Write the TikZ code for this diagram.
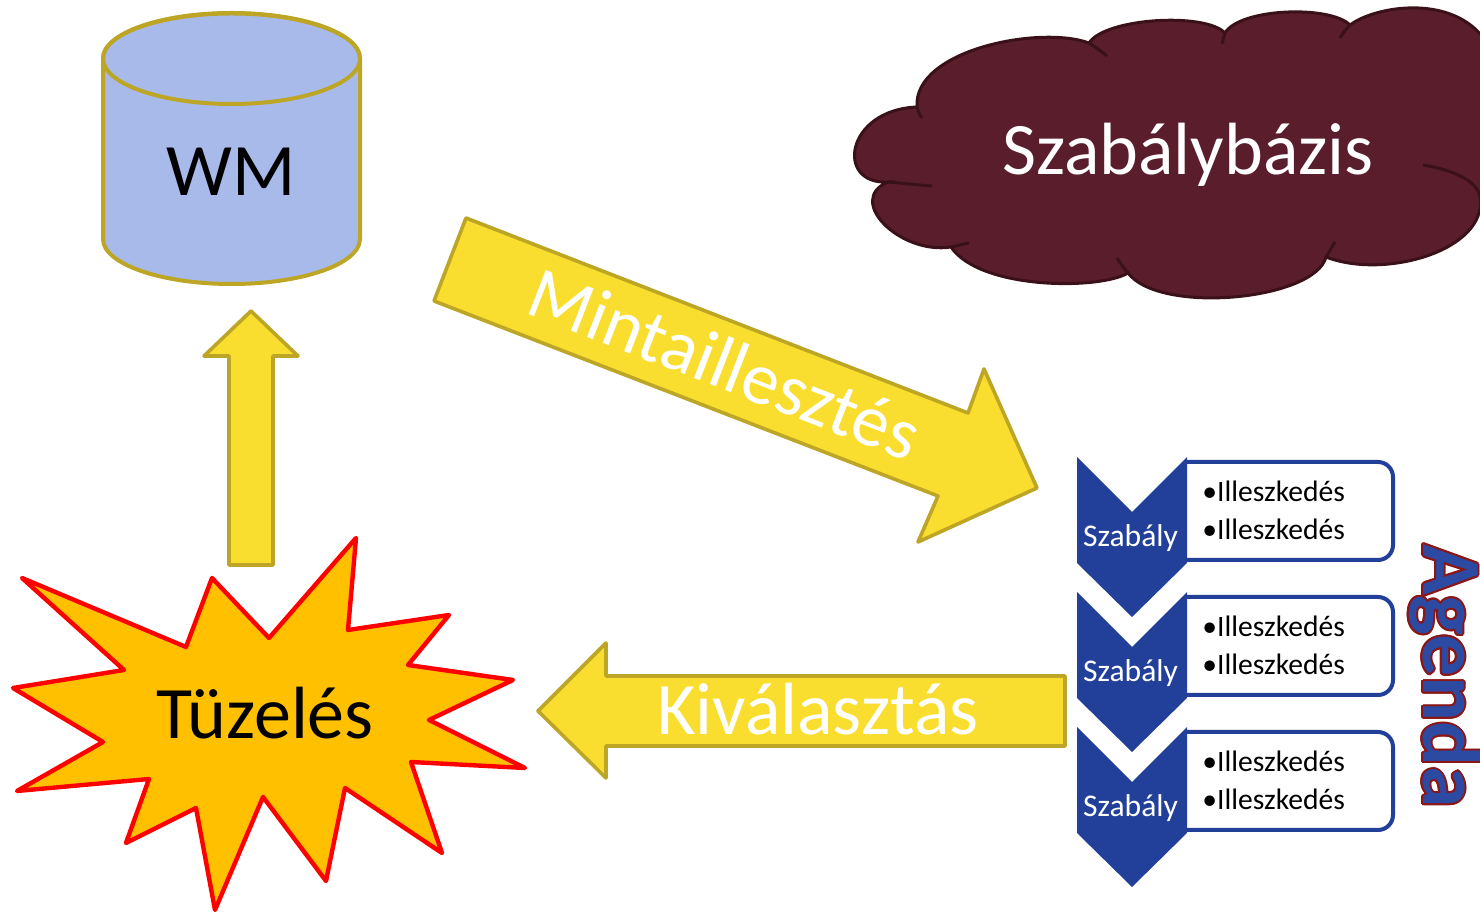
\documentclass[tikz,border=0pt]{standalone}
\usepackage{fontspec}
\setmainfont{Carlito}
\usetikzlibrary{calc}

\definecolor{cylfill}{RGB}{168,186,234}
\definecolor{olive}{RGB}{189,165,38}
\definecolor{arrowfill}{RGB}{249,222,47}
\definecolor{burstfill}{RGB}{255,192,0}
\definecolor{burstline}{RGB}{255,0,0}
\definecolor{cloudfill}{RGB}{89,29,43}
\definecolor{cloudline}{RGB}{58,17,24}
\definecolor{navy}{RGB}{34,64,154}
\definecolor{agendafill}{RGB}{44,74,162}
\definecolor{agendaline}{RGB}{140,22,22}

\tikzset{
  bigtext/.style={font=\fontsize{37pt}{41pt}\selectfont, anchor=base, inner sep=0pt},
  smalltext/.style={font=\fontsize{14.8pt}{18pt}\selectfont, anchor=base, inner sep=0pt},
  ruletext/.style={font=\fontsize{15.8pt}{18pt}\selectfont, anchor=base, inner sep=0pt, text=white},
  agendatext/.style={font=\bfseries\fontsize{42pt}{46pt}\selectfont, anchor=base, inner sep=0pt, rotate=-90},
  blockarrow/.style={fill=arrowfill, draw=olive, line width=1.8pt, line join=round},
  cloudstroke/.style={draw=cloudline, line width=1.5pt},
  chevronshape/.style={fill=navy},
  itembox/.style={fill=white, draw=navy, line width=2pt, rounded corners=7.5pt},
}

\begin{document}
\begin{tikzpicture}[x=0.5pt, y=-0.5pt]
\path[use as bounding box] (0,0) rectangle (1480,913);
\clip (0,0) rectangle (1480,913);

% rule base cloud
\filldraw[fill=cloudfill, cloudstroke]
  (888,182) .. controls (835,185) and (845,110) .. (917,107)
  .. controls (913,50) and (1040,25) .. (1089,43)
  .. controls (1105,18) and (1205,12) .. (1225,33)
  .. controls (1240,8) and (1330,5) .. (1350,25)
  .. controls (1390,-5) and (1560,-20) .. (1480,197)
  .. controls (1488,250) and (1385,280) .. (1326,257)
  .. controls (1315,300) and (1160,315) .. (1128,273)
  .. controls (1100,290) and (980,290) .. (951,247)
  .. controls (900,255) and (845,200) .. (888,182) -- cycle;
% inner arcs of the cloud
\draw[cloudstroke] (917,107) .. controls (918,111) and (919,114) .. (922,118);
\draw[cloudstroke] (1089,43) .. controls (1095,47) and (1101,51) .. (1107,56);
\draw[cloudstroke] (1225,33) .. controls (1224,36) and (1223,40) .. (1222,44);
\draw[cloudstroke] (1350,25) .. controls (1346,29) and (1343,33) .. (1340,38);
\draw[cloudstroke] (1423,165) .. controls (1455,170) and (1478,182) .. (1480,197);
\draw[cloudstroke] (1326,257) .. controls (1329,252) and (1332,247) .. (1335,242);
\draw[cloudstroke] (1128,273) .. controls (1124,268) and (1120,263) .. (1117,258);
\draw[cloudstroke] (951,247) .. controls (957,246) and (963,244) .. (969,243);
\draw[cloudstroke] (888,182) .. controls (902,183) and (917,185) .. (932,186);
\node[bigtext, text=white] (rulebase) at (1188,175) {Szabálybázis};

% working memory cylinder
\filldraw[fill=cylfill, draw=olive, line width=2pt]
  (103,58.5) -- (103,239) arc[start angle=180, end angle=360, x radius=64.25pt, y radius=22.5pt]
  -- (360,58.5) arc[start angle=0, end angle=180, x radius=64.25pt, y radius=22.5pt] -- cycle;
\draw[olive, line width=2pt] (231.5,58.5) ellipse[x radius=64.25pt, y radius=22.75pt];
\node[bigtext] (wm) at (231,196) {WM};

% firing -> WM
\draw[blockarrow] (229,565) -- (229,356) -- (204,356) -- (251,311) -- (298,356)
  -- (273,356) -- (273,565) -- cycle;

% firing burst
\filldraw[fill=burstfill, draw=burstline, line width=2.2pt, line join=round]
  (22,578) -- (186,647) -- (212,578) -- (269,638) -- (356,538) -- (348,630)
  -- (449,615) -- (408,665) -- (513,680) -- (429,720) -- (525,768) -- (411,762)
  -- (442,853) -- (345,788) -- (326,881) -- (263,797) -- (215,910) -- (196,808)
  -- (126,843) -- (149,779) -- (17,791) -- (103,742) -- (13,688) -- (124,670) -- cycle;
\node[bigtext] (fire) at (265,739) {Tüzelés};

% pattern matching arrow
\draw[blockarrow] (466,218) -- (968,413) -- (984,369) -- (1037,488) -- (918,542)
  -- (938,496) -- (434,301) -- cycle;
\node[bigtext, text=white, rotate=-21.2] (match) at (716,387) {Mintaillesztés};

% selection arrow
\draw[blockarrow] (1065,676) -- (606,676) -- (606,643) -- (538,711) -- (606,778)
  -- (606,746) -- (1065,746) -- cycle;
\node[bigtext, text=white] (select) at (818,735) {Kiválasztás};

% agenda entries
\foreach \dy/\i in {0/1,135/2,270/3}{
  \filldraw[itembox] (1187,{462+\dy}) -- (1393,{462+\dy}) -- (1393,{560+\dy}) -- (1187,{560+\dy});
  \fill[chevronshape] (1077,{457+\dy}) -- (1132,{512+\dy}) -- (1187,{457+\dy})
    -- (1187,{563+\dy}) -- (1132,{617+\dy}) -- (1077,{563+\dy}) -- cycle;
  \node[ruletext] (rule\i) at (1130.5,{547+\dy}) {Szabály};
  \node[smalltext, anchor=base west] (matchA\i) at (1202,{502+\dy}) {•Illeszkedés};
  \node[smalltext, anchor=base west] (matchB\i) at (1202,{540+\dy}) {•Illeszkedés};
}

% agenda title with outline
\foreach \a in {0,30,...,330}
  \node[agendatext, text=agendaline, shift={(\a:1pt)}] at (1423,676.5) {Agenda};
\node[agendatext, text=agendafill] (agenda) at (1423,676.5) {Agenda};
\end{tikzpicture}
\end{document}
